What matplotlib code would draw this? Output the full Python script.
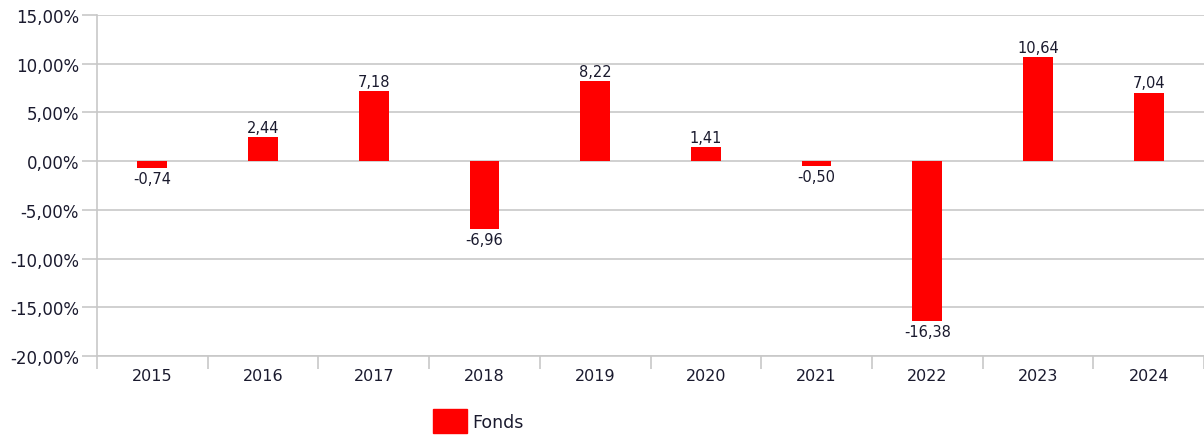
import matplotlib
matplotlib.use("Agg")
import matplotlib.pyplot as plt
from matplotlib.patches import Patch
from matplotlib.ticker import FuncFormatter, MultipleLocator, FixedLocator

years = ["2015", "2016", "2017", "2018", "2019", "2020", "2021", "2022", "2023", "2024"]
fonds = [-0.74, 2.44, 7.18, -6.96, 8.22, 1.41, -0.50, -16.38, 10.64, 7.04]

plt.rcParams['font.family'] = ['DejaVu Sans']
fig = plt.figure(figsize=(12.04, 4.39), dpi=100)
ax = fig.add_axes([97/1204, 1-357/439, 1-97/1204, (357-16)/439])

red = "#ff0000"
grid_c = "#c8c8c8"
text_c = "#1a1a2e"

x = list(range(len(years)))
ax.bar(x, fonds, width=0.27, color=red, zorder=3)

ax.set_xlim(-0.5, len(years) - 0.5)
ax.set_ylim(-20, 15)
ax.yaxis.set_major_locator(MultipleLocator(5))
ax.yaxis.set_major_formatter(FuncFormatter(lambda v, p: f"{v:.2f}".replace(".", ",") + "%"))
ax.set_xticks(x)
ax.set_xticklabels(years)
ax.xaxis.set_minor_locator(FixedLocator([i - 0.5 for i in range(len(years) + 1)]))
ax.tick_params(axis='x', which='major', length=0, pad=9, labelsize=11.5, labelcolor=text_c)
ax.tick_params(axis='x', which='minor', length=9, width=1.2, color=grid_c)
ax.tick_params(axis='y', length=11, width=1.2, color=grid_c, pad=2, labelsize=12, labelcolor=text_c)

ax.grid(axis='y', color=grid_c, linewidth=1.2, zorder=0)
for s in ['top', 'right']:
    ax.spines[s].set_visible(False)
ax.spines['left'].set_color(grid_c)
ax.spines['left'].set_linewidth(1.2)
ax.spines['bottom'].set_color(grid_c)
ax.spines['bottom'].set_linewidth(1.2)

for xi, v in zip(x, fonds):
    lbl = f"{v:.2f}".replace(".", ",")
    if v >= 0:
        ax.annotate(lbl, (xi, v), xytext=(0, 1.5), textcoords='offset points',
                    ha='center', va='bottom', fontsize=10.5, color=text_c)
    else:
        ax.annotate(lbl, (xi, v), xytext=(0, -2), textcoords='offset points',
                    ha='center', va='top', fontsize=10.5, color=text_c)

fig.legend(handles=[Patch(facecolor=red, edgecolor=red, label="Fonds")],
           loc='center left', bbox_to_anchor=(417/1204, 1-422/439), frameon=False,
           fontsize=12.5, handlelength=2.0, handleheight=1.75, handletextpad=0.3,
           labelcolor=text_c)

fig.savefig("out.png", dpi=100)
